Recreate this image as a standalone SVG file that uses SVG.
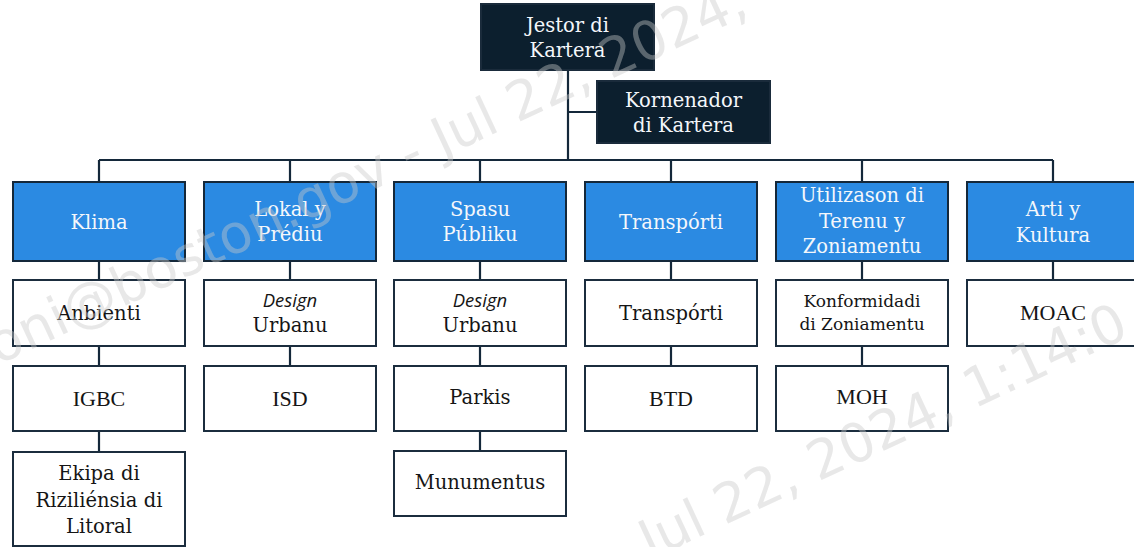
<svg xmlns="http://www.w3.org/2000/svg" width="1134" height="547" viewBox="0 0 1134 547">
<style>
  .bg{fill:#ffffff}
  .dark{fill:#0c1f2e;stroke:#1a2b3b;stroke-width:2}
  .blue{fill:#2b8ae2;stroke:#14283a;stroke-width:2}
  .white{fill:#ffffff;stroke:#1b2d3e;stroke-width:2}
  .conn{fill:none;stroke:#14283a;stroke-width:2.2}
  text{font-family:"DejaVu Serif","Liberation Serif",serif;font-size:19.5px;text-anchor:middle}
  .w{fill:#f4f7fb}
  .k{fill:#151515}
  .m{font-family:"Liberation Serif",serif;font-size:22px}
  .s{font-size:17px}
  .d{font-family:"Open Sans","DejaVu Sans",sans-serif;font-style:italic;font-size:18.5px}
  .wm{font-family:"DejaVu Sans",sans-serif;font-size:54px;fill:#c8c8c8;fill-opacity:0.42;text-anchor:start}
</style>
<rect class="bg" x="0" y="0" width="1134" height="547"/>
<g id="connectors">
  <path class="conn" d="M568 70 V160 M568 112 H597 M99 160 H1053 M99 160 V182 M290 160 V182 M480 160 V182 M671 160 V182 M862 160 V182 M1053 160 V182 M99 261 V280 M290 261 V280 M480 261 V280 M671 261 V280 M862 261 V280 M1053 261 V280 M99 346 V366 M290 346 V366 M480 346 V366 M671 346 V366 M862 346 V366 M99 431 V452 M480 431 V451"/>
</g>
<g id="jestor"><rect class="dark" x="481" y="4" width="173" height="66"/><text class="w" x="567.5" y="32">Jestor di</text><text class="w" x="567.5" y="57">Kartera</text></g>
<g id="kornenador"><rect class="dark" x="597" y="81" width="173" height="62"/><text class="w" x="683.5" y="107">Kornenador</text><text class="w" x="683.5" y="132">di Kartera</text></g>

<g id="klima"><rect class="blue" x="13" y="182" width="172" height="79"/><text class="w" x="99" y="229">Klima</text></g>
<g id="lokal"><rect class="blue" x="204" y="182" width="172" height="79"/><text class="w" x="290" y="216">Lokal y</text><text class="w" x="290" y="241">Prédiu</text></g>
<g id="spasu"><rect class="blue" x="394" y="182" width="172" height="79"/><text class="w" x="480" y="216">Spasu</text><text class="w" x="480" y="241">Públiku</text></g>
<g id="transporti"><rect class="blue" x="585" y="182" width="172" height="79"/><text class="w" x="671" y="229">Transpórti</text></g>
<g id="utilizason"><rect class="blue" x="776" y="182" width="172" height="79"/><text class="w" x="862" y="202">Utilizason di</text><text class="w" x="862" y="228">Terenu y</text><text class="w" x="862" y="253">Zoniamentu</text></g>
<g id="arti"><rect class="blue" x="967" y="182" width="172" height="79"/><text class="w" x="1053" y="216">Arti y</text><text class="w" x="1053" y="242">Kultura</text></g>

<g id="anbienti"><rect class="white" x="13" y="280" width="172" height="66"/><text class="k" x="99" y="320">Anbienti</text></g>
<g id="design-urbanu-1"><rect class="white" x="204" y="280" width="172" height="66"/><text class="k d" x="290" y="307">Design</text><text class="k" x="290" y="332">Urbanu</text></g>
<g id="design-urbanu-2"><rect class="white" x="394" y="280" width="172" height="66"/><text class="k d" x="480" y="307">Design</text><text class="k" x="480" y="332">Urbanu</text></g>
<g id="transporti-2"><rect class="white" x="585" y="280" width="172" height="66"/><text class="k" x="671" y="320">Transpórti</text></g>
<g id="konformidadi"><rect class="white" x="776" y="280" width="172" height="66"/><text class="k s" x="862" y="307">Konformidadi</text><text class="k s" x="862" y="330">di Zoniamentu</text></g>
<g id="moac"><rect class="white" x="967" y="280" width="172" height="66"/><text class="k m" x="1053" y="320">MOAC</text></g>

<g id="igbc"><rect class="white" x="13" y="366" width="172" height="65"/><text class="k m" x="99" y="406">IGBC</text></g>
<g id="isd"><rect class="white" x="204" y="366" width="172" height="65"/><text class="k m" x="290" y="406">ISD</text></g>
<g id="parkis"><rect class="white" x="394" y="366" width="172" height="65"/><text class="k" x="480" y="404">Parkis</text></g>
<g id="btd"><rect class="white" x="585" y="366" width="172" height="65"/><text class="k m" x="671" y="406">BTD</text></g>
<g id="moh"><rect class="white" x="776" y="366" width="172" height="65"/><text class="k m" x="862" y="404">MOH</text></g>

<g id="ekipa"><rect class="white" x="13" y="452" width="172" height="94"/><text class="k" x="99" y="480">Ekipa di</text><text class="k" x="99" y="507">Riziliénsia di</text><text class="k" x="99" y="533">Litoral</text></g>
<g id="munumentus"><rect class="white" x="394" y="451" width="172" height="65"/><text class="k" x="480" y="489">Munumentus</text></g>

<g id="watermark">
  <text class="wm" transform="translate(-2 365) rotate(-25)">oni@boston.gov - Jul 22, 2024,</text>
  <text class="wm" transform="translate(650 560) rotate(-25)">Jul 22, 2024, 1:14:0</text>
</g>
</svg>
